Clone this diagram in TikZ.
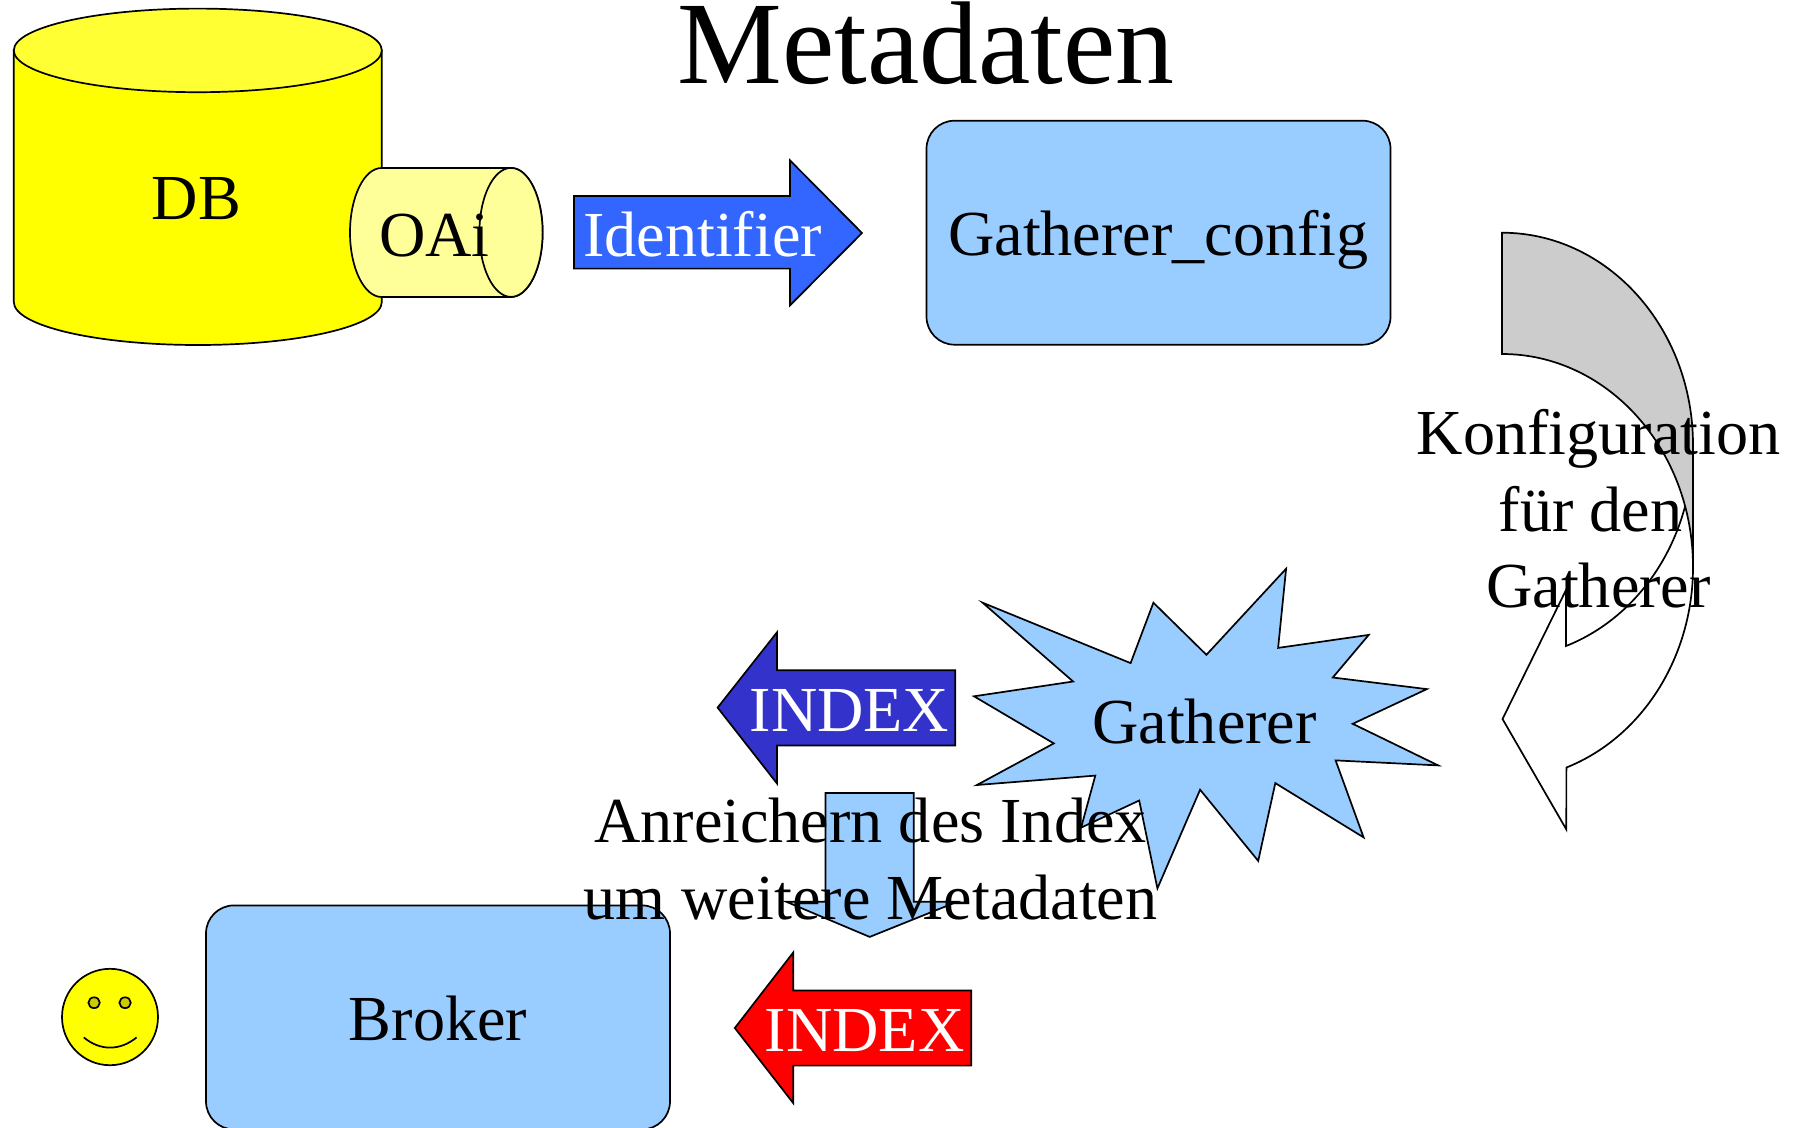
\documentclass[tikz,border=0pt]{standalone}
\usepackage{fontspec}
\setmainfont{Liberation Serif}
\usetikzlibrary{positioning}

\definecolor{dbyellow}{HTML}{FFFF00}
\definecolor{dbtop}{HTML}{FFFF33}
\definecolor{oaiyellow}{HTML}{FFFF99}
\definecolor{lightblue}{HTML}{99CCFF}
\definecolor{idblue}{HTML}{3366FF}
\definecolor{indexblue}{HTML}{3333CC}
\definecolor{backgray}{HTML}{CCCCCC}
\definecolor{eyeyellow}{HTML}{CCCC00}

\tikzset{
  outline/.style={draw=black,line width=1.7pt,line join=miter},
  lbl/.style={inner sep=0pt,anchor=base,font=\fontsize{64.2}{76.5}\selectfont},
  whitelbl/.style={lbl,text=white},
  cfgbox/.style={outline,fill=lightblue,rounded corners=28pt,inner sep=0pt,
    minimum width=464pt,minimum height=224pt,text height=46pt,text depth=0pt,
    font=\fontsize{64.2}{76.5}\selectfont},
}

\begin{document}
\begin{tikzpicture}[x=1pt,y=-1pt]
\useasboundingbox (0,0) rectangle (1793,1127);

\node[lbl,font=\fontsize{117.7}{120}\selectfont](title) at (926,83){Metadaten};

% DB with OAi
\draw[outline,fill=dbyellow] (13.8,50.4) -- (13.8,302) arc[start angle=180,end angle=360,x radius=184pt,y radius=43pt] -- (381.8,50.4) -- cycle;
\draw[outline,fill=dbtop] (197.8,50.4) ellipse[x radius=184pt,y radius=41.8pt];
\node[lbl](db) at (196.5,219.6){DB};
\draw[outline,fill=oaiyellow] (381.6,168) arc[start angle=90,end angle=270,x radius=31.6pt,y radius=64.5pt] -- (511,297) arc[start angle=-90,end angle=90,x radius=31.6pt,y radius=64.5pt] -- cycle;
\draw[outline,fill=oaiyellow] (511,232.4) ellipse[x radius=31.6pt,y radius=64.5pt];
\node[lbl](oai) at (434.5,256){OAi};

% Identifier
\draw[outline,fill=idblue] (574,196) -- (790,196) -- (790,160.4) -- (862,233) -- (790,305.4) -- (790,268.6) -- (574,268.6) -- cycle;
\node[whitelbl](identifier) at (702.5,256){Identifier};

\node[cfgbox](config) at (1158.5,232.7){Gatherer\_config};

% curved arrow, white part first
\draw[outline,fill=white] (1566,646) arc[start angle=-70.4,end angle=0,x radius=191pt,y radius=212.3pt] -- (1693,567) arc[start angle=0,end angle=-70.3,x radius=191pt,y radius=213pt] -- (1566.3,829.4) -- (1502.5,719) -- (1566,590) -- cycle;
\draw[outline,fill=backgray] (1502,232.7) arc[start angle=90,end angle=0,x radius=191pt,y radius=212.3pt] -- (1693,567) arc[start angle=0,end angle=90,x radius=191pt,y radius=213pt] -- cycle;
\node[lbl,anchor=center,align=center](konfig) at (1598.5,509){Konfiguration\\für den\hspace*{16pt}\mbox{}\\Gatherer};

\draw[outline,fill=lightblue] (982.6,602.7) -- (1130.6,663.1) -- (1153.4,602.7) -- (1206.4,654.8) -- (1286.1,568.7) -- (1278.1,647.9) -- (1368.7,634.9) -- (1332.8,677.5) -- (1426.8,689.1) -- (1352.7,723.8) -- (1438.2,765.4) -- (1335.6,760.4) -- (1363.6,837.4) -- (1275.3,783.1) -- (1258.2,860.9) -- (1200.1,789.7) -- (1157.4,888.4) -- (1139.2,800.5) -- (1081.1,827.6) -- (1095.3,775.6) -- (976.9,785) -- (1053.8,743.4) -- (974,696.3) -- (1073.1,681.5) -- cycle;
\node[lbl](gatherer) at (1204.5,743){Gatherer};

\draw[outline,fill=indexblue] (717.6,707.6) -- (777,632.3) -- (777,670.3) -- (955.2,670.3) -- (955.2,745.5) -- (777,745.5) -- (777,783.5) -- cycle;
\node[whitelbl](indexa) at (849.5,731.7){INDEX};

\node[cfgbox](broker) at (438,1017.4){Broker};

\draw[outline,fill=lightblue] (825.5,793) -- (913.7,793) -- (913.7,901.8) -- (957,901.8) -- (869.7,936.9) -- (786.4,901.8) -- (825.5,901.8) -- cycle;
\node[lbl,anchor=center,align=center](anreichern) at (870.5,859){Anreichern des Index\\um weitere Metadaten};

\draw[outline,fill=red] (734.8,1028) -- (793.3,952.4) -- (793.3,990.4) -- (971.2,990.4) -- (971.2,1065.6) -- (793.3,1065.6) -- (793.3,1103.2) -- cycle;
\node[whitelbl](indexb) at (864.7,1051){INDEX};

% smiley
\draw[outline,fill=dbyellow] (110,1017) ellipse[x radius=48pt,y radius=48.2pt];
\draw[outline,fill=eyeyellow] (94.1,1002.7) ellipse[x radius=5.7pt,y radius=5.4pt];
\draw[outline,fill=eyeyellow] (125.1,1002.7) ellipse[x radius=5.7pt,y radius=5.4pt];
\draw[outline] (83.8,1037.4) .. controls (100,1051) and (120,1051) .. (136.6,1037.4);

\end{tikzpicture}
\end{document}
